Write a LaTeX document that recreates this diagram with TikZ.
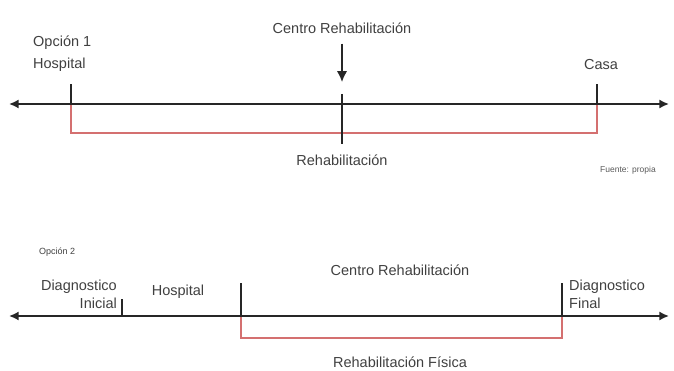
\documentclass[tikz,border=0pt]{standalone}
\usepackage{fontspec}
\setmainfont{Liberation Sans}
\usetikzlibrary{arrows.meta,calc,positioning}
\definecolor{spanred}{RGB}{212,112,112}
\tikzset{
    tl axis/.style={
        {Latex[length=3.4mm,width=3.2mm]}-{Latex[length=3.4mm,width=3.2mm]},
        line width=1.8pt,
        black!85
    },
    tl tick/.style={line width=1.5pt, black!85},
    tl down/.style={-{Latex[length=3.8mm,width=3.6mm]}, line width=1.6pt, black!85},
    tl span/.style={spanred, line width=1.1pt},
    tl label/.style={
        text=black!75,
        inner sep=1pt,
        font=\fontsize{14.5}{18}\selectfont
    },
    tl small/.style={text=black!75, inner sep=1pt, font=\fontsize{9}{11}\selectfont},
    tl note/.style={text=black!65, inner sep=0pt, font=\fontsize{8.5}{10}\selectfont}
}

\begin{document}
\begin{tikzpicture}[x=1pt,y=-1pt]
    \useasboundingbox (0,0) rectangle (674,371);

    % Opcion 1
    \coordinate (aL) at (9,104);
    \coordinate (aR) at (669,104);
    \coordinate (hos) at (71,104);
    \coordinate (cen) at (342,104);
    \coordinate (cas) at (597,104);

    \draw[tl span] (hos) -- ++(0,29) -| (cas);
    \draw[tl axis] (aL) -- (aR);
    \draw[tl tick] (hos) -- ++(0,-20);
    \draw[tl tick] (cas) -- ++(0,-20);
    \draw[tl tick] ($(cen)+(0,-10)$) -- ($(cen)+(0,40)$);

    \node[tl label] (centro1) at (342,28) {Centro Rehabilitación};
    \draw[tl down] ($(centro1.south)+(0,9)$) -- ($(cen)+(0,-22)$);

    \node[tl label, anchor=west] (op1) at (32,43) {Opción 1};
    \node[tl label, anchor=west] (hosp1) at (32,65) {Hospital};
    \node[tl label] (casa) at (601,65) {Casa};
    \node[tl label] (rehab1) at (342,160) {Rehabilitación};
    \node[tl note, anchor=west] (fuente) at (600,170) {Fuente: propia};

    % Opcion 2
    \coordinate (bL) at (9,316);
    \coordinate (bR) at (669,316);
    \coordinate (dini) at (122,316);
    \coordinate (ctr) at (241,316);
    \coordinate (dfin) at (562,316);

    \draw[tl span] (ctr) -- ++(0,22) -| (dfin);
    \draw[tl axis] (bL) -- (bR);
    \draw[tl tick] (dini) -- ++(0,-17);
    \draw[tl tick] (ctr) -- ++(0,-33);
    \draw[tl tick] (dfin) -- ++(0,-33);

    \node[tl small, anchor=west] (op2) at (38,252) {Opción 2};
    \node[tl label, align=right, anchor=north east] (diaginicial) at (118,279) {Diagnostico\\Inicial};
    \node[tl label] (hosp2) at (178,292) {Hospital};
    \node[tl label] (centro2) at (400,270) {Centro Rehabilitación};
    \node[tl label, align=left, anchor=north west] (diagfinal) at (568,279) {Diagnostico\\Final};
    \node[tl label] (rehab2) at (400,362) {Rehabilitación Física};
\end{tikzpicture}
\end{document}
